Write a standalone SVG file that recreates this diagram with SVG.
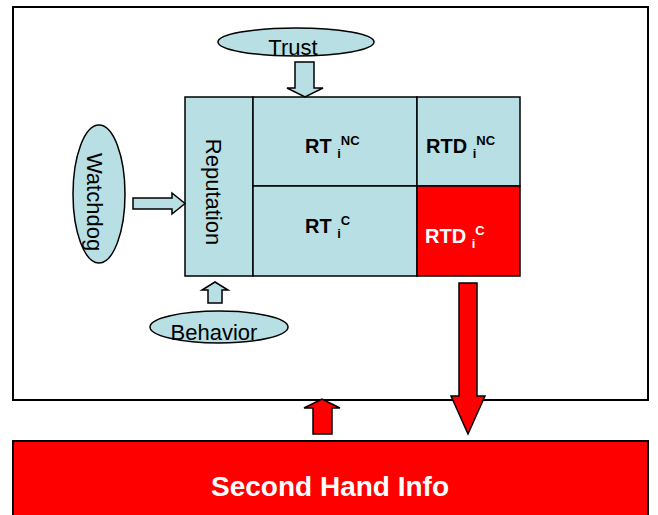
<svg xmlns="http://www.w3.org/2000/svg" width="658" height="515" viewBox="0 0 658 515">
<style>
.lb{fill:#b8dfe3;stroke:#000;stroke-width:1.5}
.red{fill:#ff0000;stroke:#000;stroke-width:1.5}
.t{font-family:"Liberation Sans",Arial,sans-serif;fill:#000}
.n{font-size:22px}
.b{font-weight:bold;font-size:20px}
.s{font-size:13px}
</style>
<rect x="0" y="0" width="658" height="515" fill="#fff"/>
<g id="frame"><rect x="13" y="7" width="635" height="393" fill="#fff" stroke="#000" stroke-width="2"/></g>
<g id="second-hand"><rect x="13" y="441" width="635" height="80" fill="#ff0000" stroke="#000" stroke-width="2"/>
<text x="330" y="496" text-anchor="middle" class="t" style="font-weight:bold;font-size:28px;fill:#fff">Second Hand Info</text></g>
<g id="grid">
<rect x="185" y="97" width="68" height="179" class="lb"/>
<rect x="253" y="97" width="164" height="89" class="lb"/>
<rect x="417" y="97" width="103" height="89" class="lb"/>
<rect x="253" y="186" width="164" height="90" class="lb"/>
<rect x="417" y="186" width="103" height="90" class="red"/>
<text transform="translate(206,192) rotate(90)" text-anchor="middle" class="t n">Reputation</text>
<text x="305" y="153" class="t b">RT <tspan class="s" dy="5">i</tspan><tspan class="s" dy="-13">NC</tspan></text>
<text x="426" y="153" class="t b">RTD <tspan class="s" dy="5">i</tspan><tspan class="s" dy="-13">NC</tspan></text>
<text x="305" y="233" class="t b">RT <tspan class="s" dy="5">i</tspan><tspan class="s" dy="-13">C</tspan></text>
<text x="425" y="243" class="t b" style="fill:#fff">RTD <tspan class="s" dy="5">i</tspan><tspan class="s" dy="-13">C</tspan></text>
</g>
<g id="trust"><ellipse cx="296" cy="42" rx="78" ry="14" class="lb"/>
<text x="293" y="55" text-anchor="middle" class="t n">Trust</text></g>
<g id="watchdog"><ellipse cx="99" cy="194" rx="26" ry="69" class="lb"/>
<text transform="translate(87,202) rotate(90)" text-anchor="middle" class="t n">Watchdog</text></g>
<g id="behavior"><ellipse cx="219" cy="327" rx="69" ry="16" class="lb"/>
<text x="214" y="340" text-anchor="middle" class="t n">Behavior</text></g>
<g id="connectors">
<polygon points="295,62 314,62 314,88 323,88 305,97 287,88 295,88" class="lb"/>
<polygon points="133,198 172,198 172,193 185,203.5 172,214 172,209 133,209" class="lb"/>
<polygon points="208,303 222,303 222,290 228,290 215,282 202,290 208,290" class="lb"/>
<polygon points="459,283 477,283 477,396 485,396 468,434 451,396 459,396" class="red"/>
<polygon points="313,434 332,434 332,408 340,408 322,399 304,408 313,408" class="red"/>
</g>
</svg>
